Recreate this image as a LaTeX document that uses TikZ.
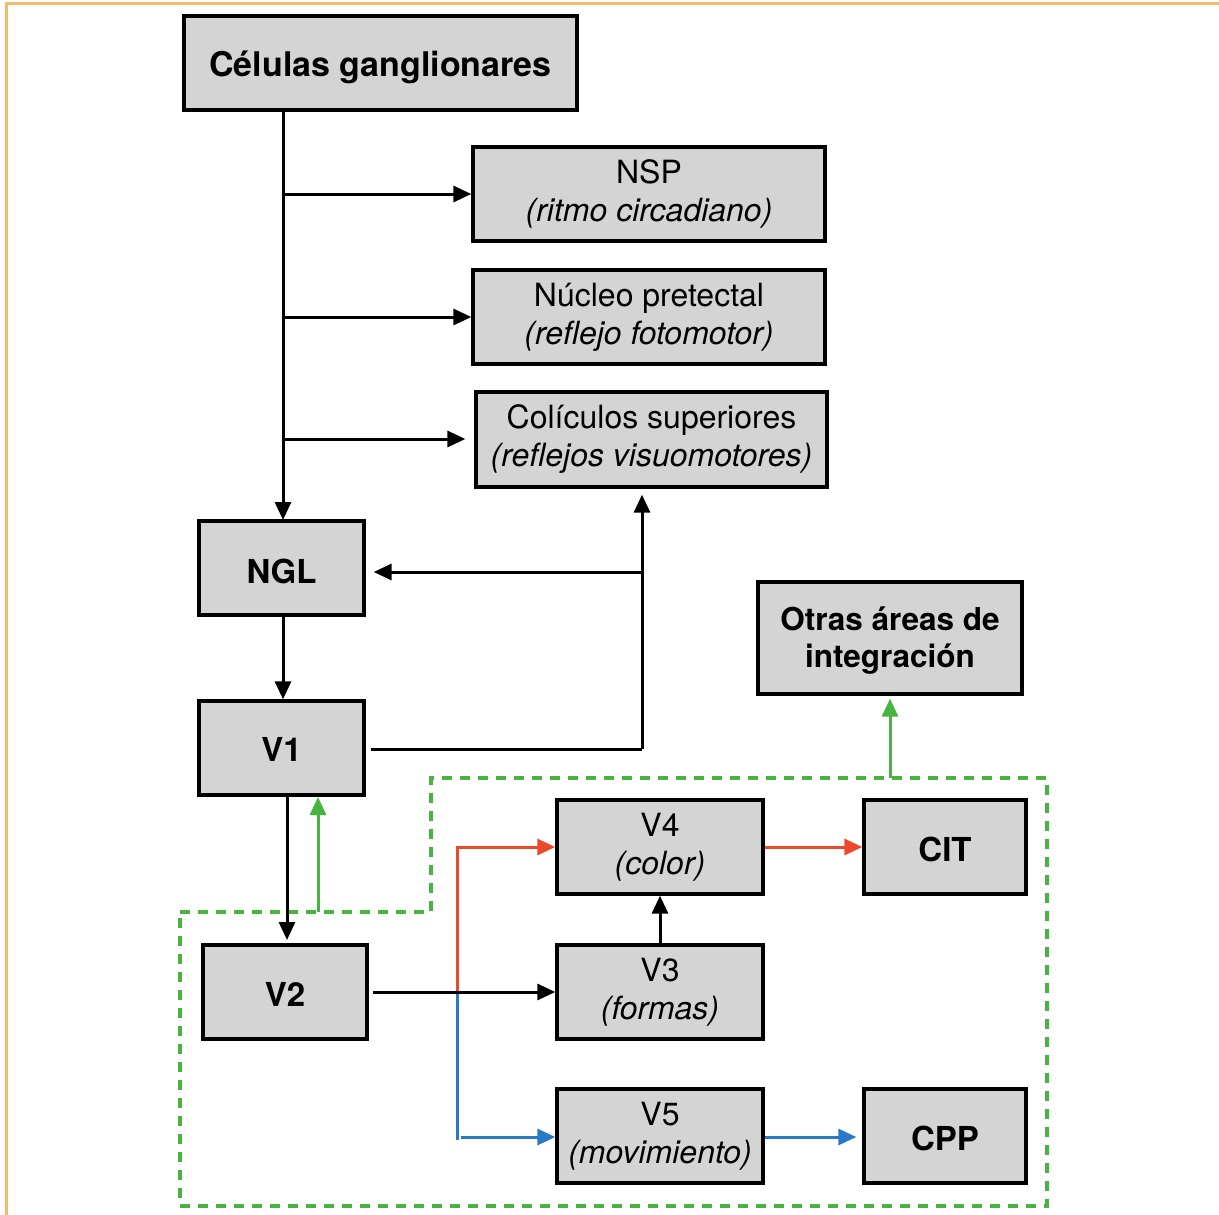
\documentclass[tikz,border=0pt]{standalone}
\usepackage{fontspec}
\setmainfont{TeX Gyre Heros}
\usetikzlibrary{arrows.meta,calc}
\definecolor{boxgray}{RGB}{212,212,212}
\definecolor{dgreen}{RGB}{72,180,64}
\definecolor{ared}{RGB}{236,72,44}
\definecolor{ablue}{RGB}{40,122,200}
\definecolor{frameorange}{RGB}{247,186,104}
\newcommand{\lowr}[2]{\raisebox{-#1}[\height][\depth]{#2}}
\begin{document}
\begin{tikzpicture}[x=1pt,y=-1pt,
  box/.style={draw=black,line width=3.3pt,fill=boxgray,rectangle,inner sep=0pt,align=center,
    font=\fontsize{32}{38}\selectfont},
  bbox/.style={box,font=\fontsize{33}{38}\selectfont\bfseries},
  arr/.style={line width=3pt,-{Triangle[length=18pt,width=16pt]}},
  conn/.style={line width=3pt}]
\useasboundingbox (0,0) rectangle (1219,1215);
\draw[frameorange,line width=3pt] (1219,4) -- (6,4) -- (6,1215);

% nodes
\node[bbox,font=\fontsize{34}{38}\selectfont\bfseries,minimum width=393pt,minimum height=94pt] (cel) at (380.5,63) {\lowr{4pt}{Células ganglionares}};
\node[box,minimum width=352pt,minimum height=94pt] (nsp) at (649,194) {NSP\\\textit{(ritmo circadiano)}};
\node[box,minimum width=352pt,minimum height=94pt] (npt) at (649,317) {Núcleo pretectal\\\textit{(reflejo fotomotor)}};
\node[box,minimum width=351pt,minimum height=95pt] (col) at (651.5,439.5) {Colículos superiores\\\textit{(reflejos visuomotores)}};
\node[bbox,minimum width=165pt,minimum height=94pt] (ngl) at (281.5,568) {\lowr{3pt}{NGL}};
\node[bbox,minimum width=165pt,minimum height=94pt] (v1) at (281.5,748) {\lowr{1pt}{V1}};
\node[bbox,font=\fontsize{31.5}{37}\selectfont\bfseries,minimum width=264pt,minimum height=112pt] (otras) at (890,638) {\lowr{3pt}{\parbox{264pt}{\centering Otras áreas de\\integración}}};
\node[box,minimum width=206pt,minimum height=94pt] (v4) at (660,847) {V4\\\textit{(color)}};
\node[bbox,minimum width=162pt,minimum height=94pt] (cit) at (945,847) {\lowr{2pt}{CIT}};
\node[bbox,minimum width=164pt,minimum height=94pt] (v2) at (285,992) {\lowr{2pt}{V2}};
\node[box,minimum width=206pt,minimum height=94pt] (v3) at (660,992) {V3\\\textit{(formas)}};
\node[box,minimum width=206pt,minimum height=94pt] (v5) at (660,1136) {V5\\\textit{(movimiento)}};
\node[bbox,minimum width=162pt,minimum height=94pt] (cpp) at (945,1136) {\lowr{2pt}{CPP}};

% dashed region
\draw[dgreen,line width=4.5pt,dash pattern=on 10pt off 8pt]
  (180,912) -- (431,912) -- (431,778) -- (1047,778) -- (1047,1206) -- (180,1206) -- cycle;

% trunk
\coordinate (t0) at (283,110);
\draw[arr] (t0) -- (283,520);
\draw[arr] (283,194) -- (nsp.west);
\draw[arr] (283,317) -- (npt.west);
\draw[arr,shorten >=9pt] (283,439) -- (col.west |- 283,439);

% V1 feedback to colliculi and NGL
\coordinate (c1) at (642,749);
\draw[conn] ([xshift=5pt]v1.east |- c1) -- (c1);
\draw[arr,shorten >=6pt] (c1) -- (c1 |- col.south);
\draw[arr,shorten >=8pt] (c1 |- 0,572) -- (ngl.east |- 0,572);

% NGL -> V1
\draw[arr] (ngl.south -| 283,0) -- (v1.north -| 283,0);
% V1 -> V2
\draw[arr,shorten >=5pt] (287,795) -- (287,945);
\draw[arr,dgreen] (318,912) -- (318,797);
% green up to Otras
\draw[arr,dgreen,shorten >=3pt] (890,778) -- (otras.south);

% colored branches
\coordinate (sp) at (457,992);
\draw[ared,arr] (sp) -- (457,847) -- (v4.west);
\draw[ablue,conn] (sp) -- (457,1140);
\draw[ablue,arr] (461,1137) -- (v5.west |- 0,1137);
\draw[arr] ([xshift=4pt]v2.east) -- (v3.west);
\draw[arr] (v3.north) -- (v4.south);
\draw[ared,arr] (v4.east) -- (cit.west);
\draw[ablue,arr,shorten >=6pt] (v5.east |- 0,1137) -- (cpp.west |- 0,1137);
\end{tikzpicture}
\end{document}
